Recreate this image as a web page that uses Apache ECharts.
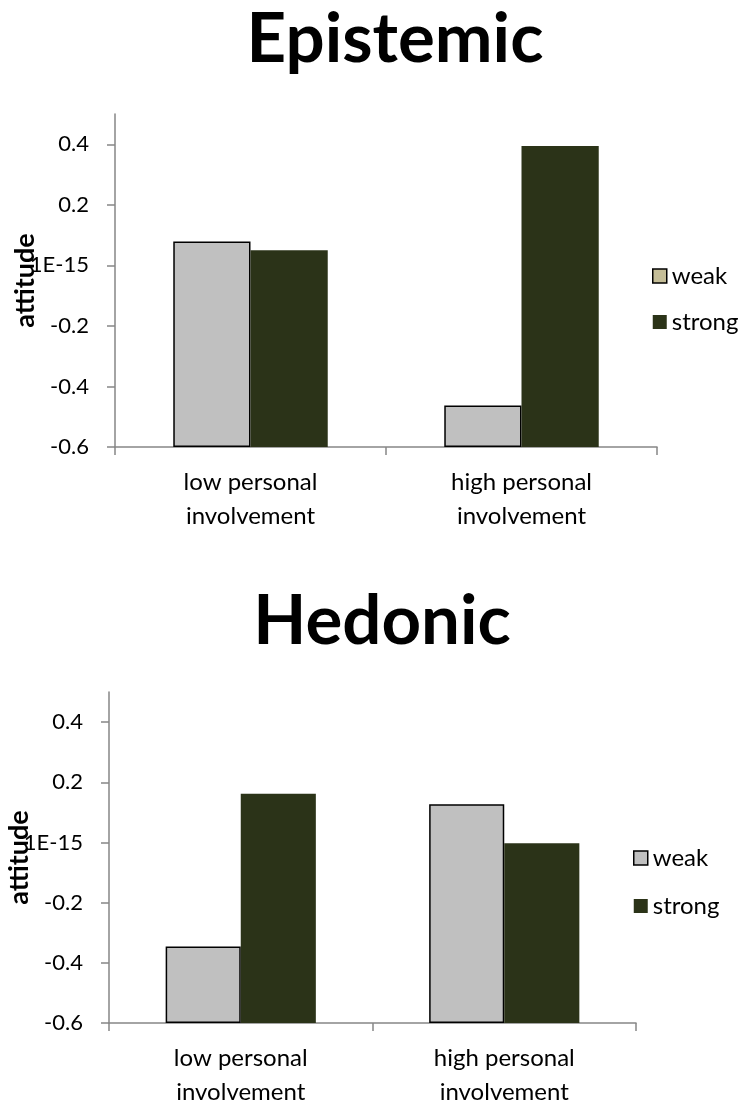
<!DOCTYPE html>
<html>
<head>
<meta charset="utf-8">
<script src="https://cdn.jsdelivr.net/npm/echarts@6/dist/echarts.min.js"></script>
<style>
  html, body { margin: 0; padding: 0; background: #ffffff; }
  #chart { width: 744px; height: 1104px; }
</style>
</head>
<body>
<div id="chart"></div>
<script>
// Attitude by personal involvement, for weak and strong arguments
const categories = ['low personal\ninvolvement', 'high personal\ninvolvement'];
const seriesNames = ['weak', 'strong'];
const panelTitles = ['Epistemic', 'Hedonic'];
const axisName = 'attitude';

const epistemicWeak = [0.079, -0.463];
const epistemicStrong = [0.050, 0.394];
const hedonicWeak = [-0.346, 0.127];
const hedonicStrong = [0.162, -0.003];

const tickValues = [-0.6, -0.4, -0.2, 0, 0.2, 0.4];
const tickLabels = ['-0.6', '-0.4', '-0.2', '1E-15', '0.2', '0.4'];

const FONT = 'Lato';
const AXIS_GREY = '#868686';
const WEAK_FILL = '#c0c0c0';
const STRONG_FILL = '#2b3318';

function tickText(v) {
  for (let i = 0; i < tickValues.length; i++) {
    if (Math.abs(tickValues[i] - v) < 1e-9) return tickLabels[i];
  }
  return '';
}

// panel layouts (pixels)
const panels = [
  { grid: { left: 115, top: 114, width: 542, height: 333 }, title: { x: 390, y: 0 },
    legend: { left: 647, top: 259, gap: 22 }, legendWeakColor: '#c4bd97' },
  { grid: { left: 109, top: 692, width: 527, height: 331 }, title: { x: 377, y: 582 },
    legend: { left: 628, top: 841, gap: 24 }, legendWeakColor: WEAK_FILL }
];
const panelData = [[epistemicWeak, epistemicStrong], [hedonicWeak, hedonicStrong]];

const option = {
  animation: false,
  backgroundColor: '#ffffff',
  title: panels.map((p, i) => ({
    text: panelTitles[i],
    left: p.title.x,
    top: p.title.y,
    textAlign: 'center',
    textStyle: { fontFamily: FONT, fontWeight: 'bold', fontSize: 69, color: '#000000' }
  })),
  legend: panels.map((p) => ({
    orient: 'vertical',
    left: p.legend.left,
    top: p.legend.top,
    itemWidth: 14,
    itemHeight: 14,
    itemGap: p.legend.gap,
    icon: 'rect',
    textStyle: { fontFamily: FONT, fontSize: 24, color: '#000000' },
    data: [
      { name: 'weak', itemStyle: { color: p.legendWeakColor, borderColor: '#000000', borderWidth: 1.5 } },
      { name: 'strong' }
    ],
    selectedMode: false
  })),
  grid: panels.map((p) => Object.assign({ containLabel: false, outerBoundsMode: 'none' }, p.grid)),
  xAxis: panels.map((p, i) => ({
    type: 'category',
    gridIndex: i,
    data: categories,
    axisLine: { onZero: false, lineStyle: { color: AXIS_GREY, width: 1.5 } },
    axisTick: { show: true, length: 8, lineStyle: { color: AXIS_GREY, width: 1.5 } },
    axisLabel: { fontFamily: FONT, fontSize: 24, color: '#000000', lineHeight: 34, margin: 18 }
  })),
  yAxis: panels.map((p, i) => ({
    type: 'value',
    gridIndex: i,
    min: -0.6,
    max: 0.5,
    interval: 0.2,
    startValue: -0.6,
    name: axisName,
    nameLocation: 'middle',
    nameGap: 76,
    nameMoveOverlap: false,
    nameTextStyle: { fontFamily: FONT, fontWeight: 'bold', fontSize: 27, color: '#000000' },
    splitLine: { show: false },
    axisLine: { show: true, lineStyle: { color: AXIS_GREY, width: 1.5 } },
    axisTick: { show: true, length: 8, customValues: tickValues, lineStyle: { color: AXIS_GREY, width: 1.5 } },
    axisLabel: {
      fontFamily: FONT, fontSize: 22, color: '#000000', margin: 26,
      customValues: tickValues,
      formatter: (v) => tickText(v)
    }
  })),
  series: []
};

panelData.forEach((pair, i) => {
  option.series.push({
    name: seriesNames[0], type: 'bar', xAxisIndex: i, yAxisIndex: i,
    data: pair[0], barGap: '0%', barCategoryGap: '43%',
    itemStyle: { color: WEAK_FILL, borderColor: '#000000', borderWidth: 1.5 }
  });
  option.series.push({
    name: seriesNames[1], type: 'bar', xAxisIndex: i, yAxisIndex: i,
    data: pair[1], barGap: '0%', barCategoryGap: '43%',
    itemStyle: { color: STRONG_FILL }
  });
});

const chart = echarts.init(document.getElementById('chart'), null, { renderer: 'canvas' });
chart.setOption(option);
</script>
</body>
</html>
